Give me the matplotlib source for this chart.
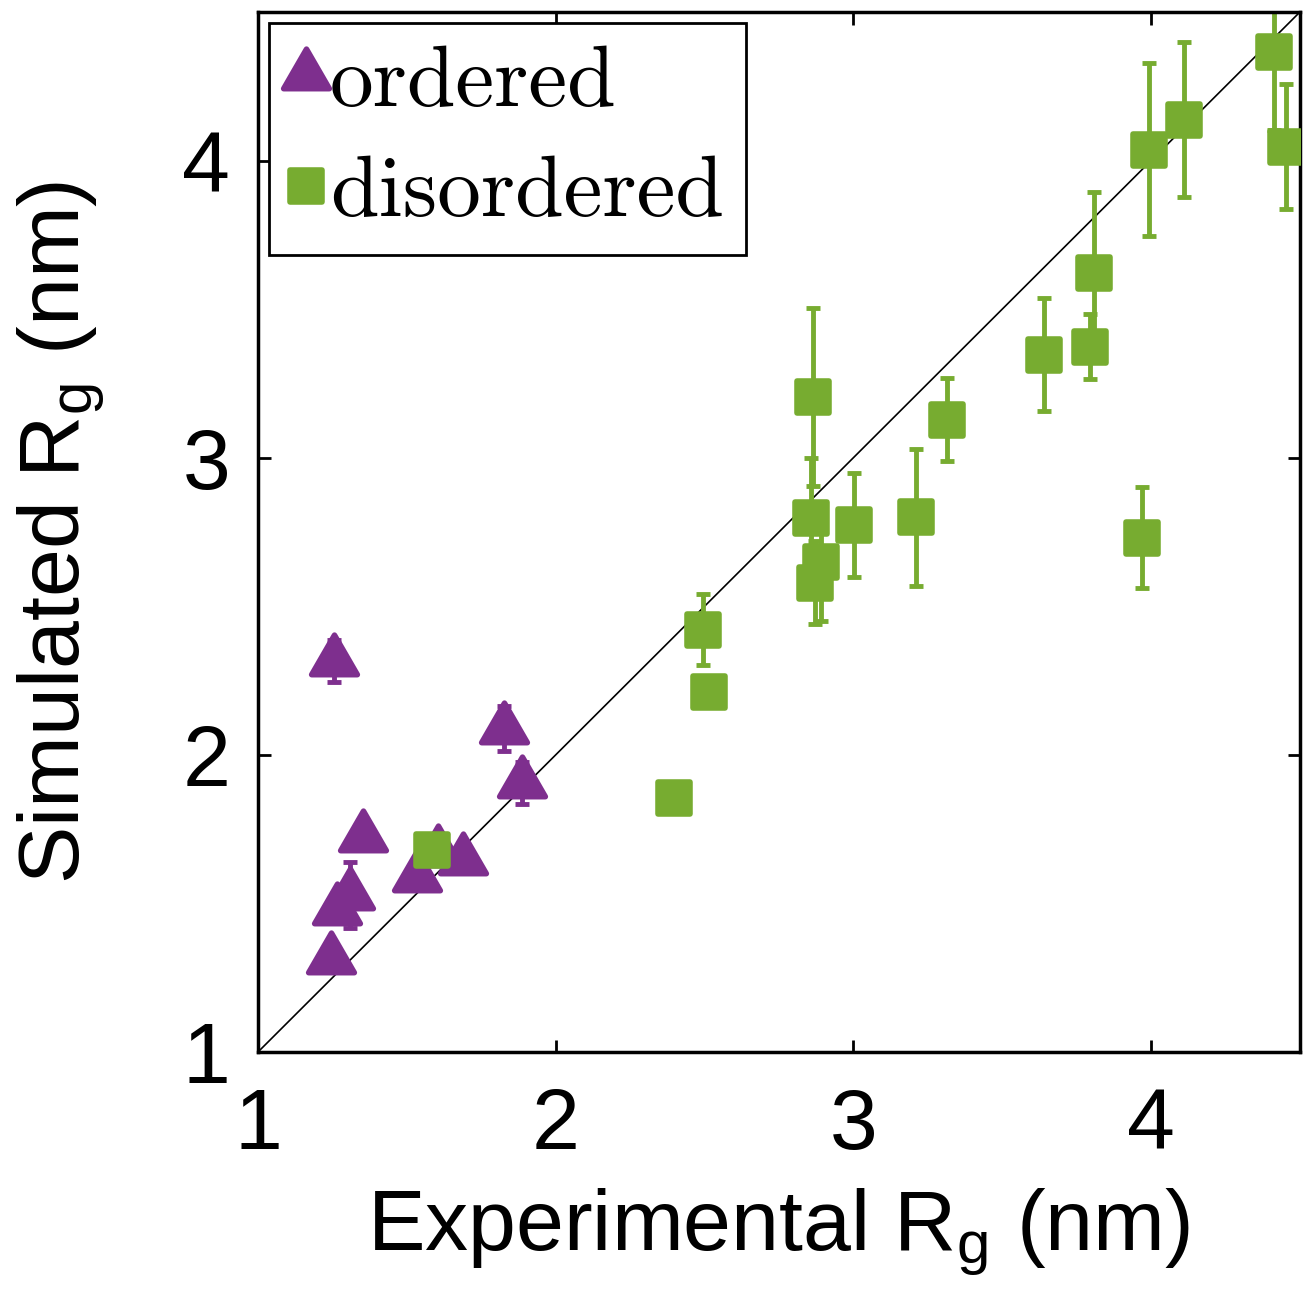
import numpy as np
import matplotlib
matplotlib.use("Agg")
import matplotlib.pyplot as plt
from matplotlib.markers import MarkerStyle
from matplotlib.lines import Line2D
from matplotlib.path import Path

plt.rcParams["font.family"] = ["Liberation Sans", "DejaVu Sans"]
plt.rcParams["mathtext.fontset"] = "custom"
plt.rcParams["mathtext.rm"] = "Liberation Sans"
plt.rcParams["mathtext.it"] = "Liberation Sans:italic"

PURPLE = "#7E2F8E"
GREEN = "#77AC30"

# ordered proteins (triangles)
ord_x = [1.256, 1.825, 1.886, 1.354, 1.310, 1.265, 1.246, 1.535, 1.606, 1.690]
ord_y = [2.316, 2.088, 1.906, 1.724, 1.529, 1.478, 1.313, 1.588, 1.672, 1.645]
ord_err = [0.07, 0.075, 0.07, 0.03, 0.11, 0.03, 0.03, 0.03, 0.03, 0.03]

# disordered proteins (squares)
dis_x = [1.586, 2.397, 2.515, 2.495, 2.865, 2.859, 2.890, 2.870, 3.003,
         3.210, 3.313, 3.640, 3.795, 3.808, 3.970, 3.993, 4.111, 4.414, 4.452]
dis_y = [1.680, 1.855, 2.212, 2.421, 3.205, 2.798, 2.650, 2.580, 2.774,
         2.800, 3.128, 3.347, 3.374, 3.623, 2.730, 4.037, 4.138, 4.364, 4.047]
dis_err = [0.0, 0.0, 0.0, 0.12, 0.30, 0.20, 0.20, 0.14, 0.175,
           0.23, 0.14, 0.19, 0.11, 0.27, 0.17, 0.29, 0.26, 0.26, 0.21]

lims = [1, 4.5]
ticks = [1, 2, 3, 4]

fig = plt.figure(figsize=(13.13, 12.97), dpi=100)
ax = fig.add_axes([0.1965, 0.1889, 0.7935, 0.8018])

ax.plot(lims, lims, color="black", linewidth=1.2, zorder=1)

# triangle centred on its centroid, like the MATLAB marker
tri_path = Path([(0, 1), (-0.866, -0.5), (0.866, -0.5), (0, 1)],
                [Path.MOVETO, Path.LINETO, Path.LINETO, Path.CLOSEPOLY])
tri = MarkerStyle(tri_path, joinstyle="round")
sq = MarkerStyle("s", joinstyle="round")
TRI_SIZE = 38
SQ_SIZE = 23

ax.errorbar(ord_x, ord_y, yerr=ord_err, fmt="none", ecolor=PURPLE,
            elinewidth=3.5, capsize=5, capthick=3.5, zorder=2)
ax.plot(ord_x, ord_y, linestyle="none", marker=tri, markersize=TRI_SIZE,
        color=PURPLE, markeredgecolor=PURPLE, markeredgewidth=4, zorder=3)

ax.errorbar(dis_x, dis_y, yerr=dis_err, fmt="none", ecolor=GREEN,
            elinewidth=3.5, capsize=5, capthick=3.5, zorder=2)
ax.plot(dis_x, dis_y, linestyle="none", marker=sq, markersize=SQ_SIZE,
        color=GREEN, markeredgecolor=GREEN, markeredgewidth=4, zorder=3)

ax.set_xlim(lims)
ax.set_ylim(lims)
ax.set_xticks(ticks)
ax.set_yticks(ticks)
ax.tick_params(direction="in", length=9, width=2, top=True, right=True,
               labelsize=62)
ax.tick_params(axis="x", pad=25)
ax.tick_params(axis="y", pad=20)
for s in ax.spines.values():
    s.set_linewidth(2.5)

ax.set_xlabel(r"Experimental R$_\mathrm{g}$ (nm)", fontsize=62, labelpad=14)
ax.set_ylabel(r"Simulated R$_\mathrm{g}$ (nm)", fontsize=62, labelpad=55)

handles = [
    Line2D([], [], linestyle="none", marker=tri, markersize=TRI_SIZE,
           color=PURPLE, markeredgecolor=PURPLE, markeredgewidth=4),
    Line2D([], [], linestyle="none", marker=sq, markersize=SQ_SIZE,
           color=GREEN, markeredgecolor=GREEN, markeredgewidth=4),
]
leg = ax.legend(handles, ["ordered", "disordered"], loc="upper left",
                prop={"family": "cmr10", "size": 63}, handlelength=0.35,
                handletextpad=0.1, borderaxespad=0.12, borderpad=0.25,
                labelspacing=0.37, fancybox=False, framealpha=1,
                edgecolor="black")
leg.get_frame().set_linewidth(2)

fig.savefig("out.png", dpi=100)
